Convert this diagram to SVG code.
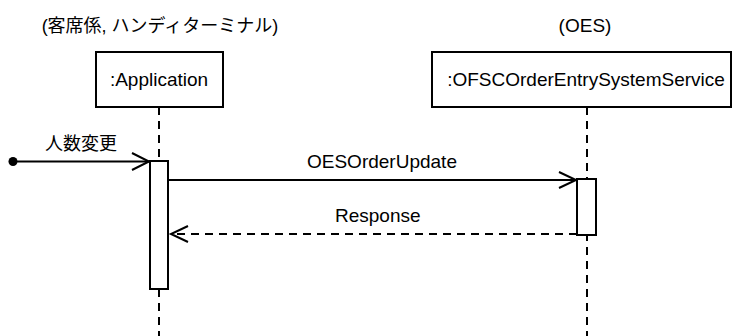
<svg xmlns="http://www.w3.org/2000/svg" width="734" height="336" viewBox="0 0 734 336">
  <style>
    text { font-family: "Liberation Sans", Arial, "Noto Sans CJK JP", sans-serif; font-size: 19px; fill: #000; }
    .cjk { font-size: 18px; }
    .box { fill: #fff; stroke: #000; stroke-width: 2; }
    .life { stroke: #000; stroke-width: 2; stroke-dasharray: 8 6; fill: none; }
    .msg { stroke: #000; stroke-width: 2; fill: none; }
    .ret { stroke: #000; stroke-width: 2; stroke-dasharray: 8 6; fill: none; }
    .head { stroke: #000; stroke-width: 2; fill: none; }
  </style>
  <rect width="734" height="336" fill="#fff"/>

  <!-- lifelines -->
  <g id="lifelines">
    <line class="life" x1="159" y1="107" x2="159" y2="336"/>
    <line class="life" x1="587" y1="107" x2="587" y2="336"/>
  </g>

  <!-- participant: client application -->
  <g id="application">
    <text class="cjk" x="160" y="32" text-anchor="middle">(客席係, ハンディターミナル)</text>
    <rect class="box" x="96" y="52" width="127" height="55"/>
    <text x="159" y="86" text-anchor="middle">:Application</text>
  </g>

  <!-- participant: order entry service -->
  <g id="oes">
    <text x="585" y="32" text-anchor="middle">(OES)</text>
    <rect class="box" x="432" y="52" width="299" height="55"/>
    <text x="586" y="86" text-anchor="middle">:OFSCOrderEntrySystemService</text>
  </g>

  <!-- activation bars -->
  <g id="app-activation">
    <rect class="box" x="150" y="161" width="18" height="128"/>
  </g>
  <g id="oes-activation">
    <rect class="box" x="577" y="179" width="19" height="56"/>
  </g>

  <!-- messages -->
  <g id="connectors">
    <circle cx="13" cy="161.5" r="4.5" fill="#000"/>
    <line class="msg" x1="13" y1="161.5" x2="149" y2="161.5"/>
    <polyline class="head" points="132,153 149,161.5 132,170"/>
    <text class="cjk" x="45" y="150">人数変更</text>

    <line class="msg" x1="168" y1="180" x2="576" y2="180"/>
    <polyline class="head" points="559,172 576,180 559,188"/>
    <text x="307" y="168">OESOrderUpdate</text>

    <line class="ret" x1="577" y1="234" x2="171" y2="234"/>
    <polyline class="head" points="188,226 171,234 188,242"/>
    <text x="335" y="222">Response</text>
  </g>
</svg>
